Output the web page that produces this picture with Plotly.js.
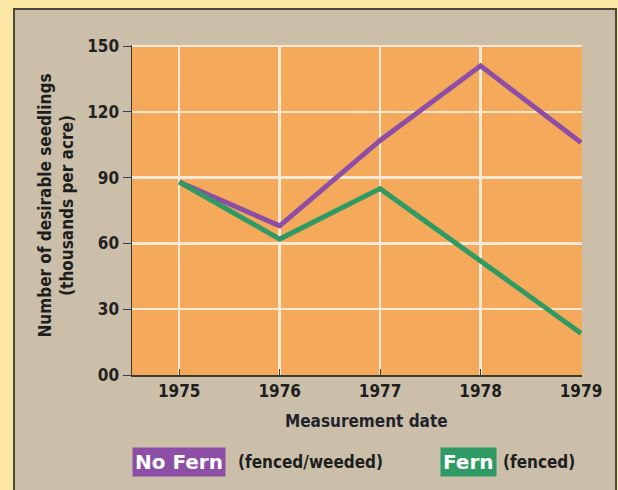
<!DOCTYPE html>
<html>
<head>
<meta charset="utf-8">
<script src="https://cdn.plot.ly/plotly-3.0.1.min.js"></script>
<style>
  html, body { margin: 0; padding: 0; background: #fbe7a4; width: 618px; height: 490px; overflow: hidden; }
  #panel { position: absolute; left: 13px; top: 8px; width: 600px; height: 490px; background: #cbbfa9; border-left: 2px solid #4a4a3a; border-top: 2px solid #4a4a3a; border-right: 2px solid #4a4a3a; }
  #chart { position: absolute; left: 0; top: 0; width: 618px; height: 490px; }
</style>
</head>
<body>
<div id="panel"></div>
<div id="chart"></div>
<script>
const years = [1975, 1976, 1977, 1978, 1979];
const noFern = [88, 68, 107, 141, 106];
const fern = [88, 62, 85, 52, 19];
const yTickVals = [0, 30, 60, 90, 120, 150];
const yTickText = ["00", "30", "60", "90", "120", "150"];
const xTickText = ["1975", "1976", "1977", "1978", "1979"];

const FONT = "'DejaVu Sans Condensed', 'Liberation Sans Narrow', sans-serif";

const traces = [
  { x: years, y: noFern, mode: 'lines', name: 'No Fern', line: { color: '#8d4fa5', width: 5 }, hoverinfo: 'none' },
  { x: years, y: fern, mode: 'lines', name: 'Fern', line: { color: '#2f9a63', width: 5 }, hoverinfo: 'none' }
];

const layout = {
  width: 618, height: 490,
  margin: { l: 132, r: 36, t: 45, b: 115 },
  paper_bgcolor: 'rgba(0,0,0,0)',
  plot_bgcolor: '#f5a95b',
  showlegend: false,
  font: { family: FONT, color: '#1e1e1e' },
  xaxis: {
    range: [1974.53, 1979.01],
    tickvals: years, ticktext: xTickText,
    showgrid: true, gridcolor: '#fbe9d6', gridwidth: 2.5,
    zeroline: false,
    showline: true, linecolor: '#3a3a30', linewidth: 1.5,
    ticks: 'inside', ticklen: 6, tickcolor: '#3a3a30',
    tickfont: { family: FONT, size: 17, color: '#1e1e1e', weight: 'bold' },
    fixedrange: true
  },
  yaxis: {
    range: [0, 150.5],
    tickvals: yTickVals, ticktext: yTickText,
    showgrid: true, gridcolor: '#fbe9d6', gridwidth: 2.5,
    zeroline: false,
    showline: true, linecolor: '#3a3a30', linewidth: 1.5,
    ticks: 'outside', ticklen: 8, tickcolor: '#3a3a50',
    tickfont: { family: FONT, size: 17, color: '#222', weight: 'bold' },
    fixedrange: true
  },
  annotations: [
    { xref: 'paper', yref: 'paper', x: -0.168, y: 0.515, xanchor: 'center', yanchor: 'middle',
      text: 'Number of desirable seedlings<br>(thousands per acre)', textangle: -90, showarrow: false,
      font: { family: FONT, size: 17, color: '#1e1e1e', weight: 'bold' } },
    { xref: 'paper', yref: 'paper', x: 0.52, y: -0.14, xanchor: 'center', yanchor: 'middle',
      text: 'Measurement date', showarrow: false,
      font: { family: FONT, size: 17, color: '#23232d', weight: 'bold' } },
    { xref: 'paper', yref: 'paper', x: 0.0, y: -0.265, xanchor: 'left', yanchor: 'middle',
      text: 'No Fern', showarrow: false, bgcolor: '#8d4fa5', borderpad: 2,
      font: { family: "'DejaVu Sans', sans-serif", size: 20, color: '#ffffff', weight: 'bold' } },
    { xref: 'paper', yref: 'paper', x: 0.231, y: -0.265, xanchor: 'left', yanchor: 'middle',
      text: '(fenced/weeded)', showarrow: false,
      font: { family: FONT, size: 17, color: '#1e1e1e', weight: 'bold' } },
    { xref: 'paper', yref: 'paper', x: 0.684, y: -0.265, xanchor: 'left', yanchor: 'middle',
      text: 'Fern', showarrow: false, bgcolor: '#2f9a63', borderpad: 2,
      font: { family: "'DejaVu Sans', sans-serif", size: 20, color: '#ffffff', weight: 'bold' } },
    { xref: 'paper', yref: 'paper', x: 0.82, y: -0.265, xanchor: 'left', yanchor: 'middle',
      text: '(fenced)', showarrow: false,
      font: { family: FONT, size: 17, color: '#1e1e1e', weight: 'bold' } }
  ]
};

Plotly.newPlot('chart', traces, layout, { displayModeBar: false, staticPlot: true });
</script>
</body>
</html>
